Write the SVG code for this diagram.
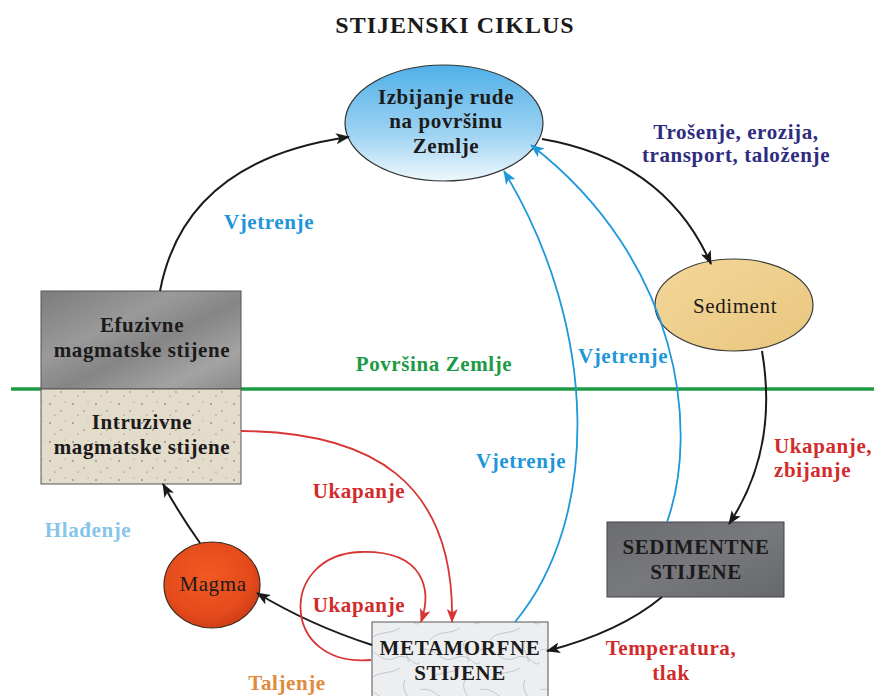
<svg xmlns="http://www.w3.org/2000/svg" width="874" height="696" viewBox="0 0 874 696">
<defs>
<style>
.t{font-family:"Liberation Serif","Times New Roman",serif;font-weight:bold;font-size:21px;letter-spacing:0.6px;text-anchor:middle}
.n{fill:#1c1a1a}
.b{fill:#1e96d8}
.r{fill:#d22b2b}
.blk{fill:none;stroke:#1a1a1a;stroke-width:2}
.red{fill:none;stroke:#d83535;stroke-width:1.8}
.blu{fill:none;stroke:#1e98dc;stroke-width:1.8}
</style>
<marker id="ak" markerWidth="14" markerHeight="11" refX="13" refY="5.5" orient="auto" markerUnits="userSpaceOnUse"><path d="M0,0 L14,5.5 L0,11 L3.5,5.5 z" fill="#1a1a1a"/></marker>
<marker id="ar" markerWidth="14" markerHeight="11" refX="13" refY="5.5" orient="auto" markerUnits="userSpaceOnUse"><path d="M0,0 L14,5.5 L0,11 L3.5,5.5 z" fill="#d83535"/></marker>
<marker id="ab" markerWidth="14" markerHeight="11" refX="13" refY="5.5" orient="auto" markerUnits="userSpaceOnUse"><path d="M0,0 L14,5.5 L0,11 L3.5,5.5 z" fill="#1e98dc"/></marker>
<linearGradient id="gBlue" x1="0" y1="0" x2="0" y2="1"><stop offset="0" stop-color="#4fb0e8"/><stop offset="0.6" stop-color="#9fd3f2"/><stop offset="1" stop-color="#eef8fd"/></linearGradient>
<linearGradient id="gEfu" x1="0" y1="0" x2="1" y2="1"><stop offset="0" stop-color="#7c7c7c"/><stop offset="0.35" stop-color="#9a9a9a"/><stop offset="0.55" stop-color="#858585"/><stop offset="0.8" stop-color="#a3a3a3"/><stop offset="1" stop-color="#8a8a8a"/></linearGradient>
<pattern id="pInt" width="23" height="19" patternUnits="userSpaceOnUse"><rect width="23" height="19" fill="#e3dccb"/><circle cx="4" cy="5" r="0.8" fill="#6b6458"/><circle cx="15" cy="12" r="0.7" fill="#7a7264"/><circle cx="19" cy="3" r="0.5" fill="#8b8374"/><circle cx="9" cy="16" r="0.6" fill="#6b6458"/></pattern>
<radialGradient id="gMag" cx="0.45" cy="0.4" r="0.65"><stop offset="0" stop-color="#f05a22"/><stop offset="0.7" stop-color="#e44a1c"/><stop offset="1" stop-color="#c93a14"/></radialGradient>
<linearGradient id="gSed" x1="0" y1="0" x2="1" y2="1"><stop offset="0" stop-color="#f3d79a"/><stop offset="1" stop-color="#e8c67e"/></linearGradient>
<linearGradient id="gSedS" x1="0" y1="0" x2="1" y2="1"><stop offset="0" stop-color="#6a6c70"/><stop offset="0.5" stop-color="#77797c"/><stop offset="1" stop-color="#66686b"/></linearGradient>
<pattern id="pMet" width="60" height="40" patternUnits="userSpaceOnUse"><rect width="60" height="40" fill="#eceef0"/><path d="M0,10 C15,5 20,25 35,18 S55,30 60,22 M10,40 C18,30 30,35 40,28 M45,0 C40,10 50,15 48,22" fill="none" stroke="#b9bdc2" stroke-width="0.8"/></pattern>
</defs>

<text x="455" y="33" class="t n" style="font-size:24px;letter-spacing:1px">STIJENSKI CIKLUS</text>

<line x1="11" y1="389" x2="874" y2="389" stroke="#1e9a45" stroke-width="3.5"/>

<g id="izbijanje">
<ellipse cx="444" cy="123" rx="99" ry="58" fill="url(#gBlue)" stroke="#333" stroke-width="1.2"/>
<text x="446" y="104" class="t n">Izbijanje rude</text>
<text x="446" y="128" class="t n">na površinu</text>
<text x="446" y="153" class="t n">Zemlje</text>
</g>

<g id="sediment">
<ellipse cx="734" cy="305" rx="79" ry="46" fill="url(#gSed)" stroke="#3a3a3a" stroke-width="1.2"/>
<text x="735" y="313" class="t n" style="font-weight:normal">Sediment</text>
</g>

<g id="efuzivne">
<rect x="41" y="291" width="200" height="98" fill="url(#gEfu)" stroke="#555" stroke-width="1"/>
<text x="142" y="332" class="t n">Efuzivne</text>
<text x="142" y="357" class="t n">magmatske stijene</text>
</g>

<g id="intruzivne">
<rect x="41" y="389" width="200" height="95" fill="url(#pInt)" stroke="#555" stroke-width="1"/>
<text x="142" y="429" class="t n">Intruzivne</text>
<text x="142" y="454" class="t n">magmatske stijene</text>
</g>

<g id="magma">
<ellipse cx="212" cy="585" rx="48" ry="43" fill="url(#gMag)" stroke="#3a2a20" stroke-width="1.2"/>
<text x="213" y="591" class="t n" style="font-weight:normal">Magma</text>
</g>

<g id="metamorfne">
<rect x="372" y="622" width="176" height="82" fill="url(#pMet)" stroke="#555" stroke-width="1"/>
<text x="460" y="655" class="t n">METAMORFNE</text>
<text x="460" y="680" class="t n">STIJENE</text>
</g>

<g id="sedimentne">
<rect x="607" y="522" width="177" height="75" fill="url(#gSedS)" stroke="#444" stroke-width="1"/>
<text x="696" y="554" class="t n">SEDIMENTNE</text>
<text x="696" y="579" class="t n">STIJENE</text>
</g>

<g id="connectors">
<path class="blk" d="M160,291 Q185,160 349,137" marker-end="url(#ak)"/>
<path class="blk" d="M542,139 Q665,160 711,264" marker-end="url(#ak)"/>
<path class="blk" d="M762,351 C772,410 765,470 729,524" marker-end="url(#ak)"/>
<path class="blk" d="M662,597 Q620,632 547,651" marker-end="url(#ak)"/>
<path class="blk" d="M372,645 Q310,625 257,593" marker-end="url(#ak)"/>
<path class="blk" d="M200,543 Q180,515 163,484" marker-end="url(#ak)"/>
<path class="red" d="M241,431 C370,432 455,480 452,622" marker-end="url(#ar)"/>
<path class="red" d="M371,660 C280,668 278,555 360,552 C425,550 432,590 421,622" marker-end="url(#ar)"/>
<path class="blu" d="M515,622 C600,520 600,330 504,171" marker-end="url(#ab)"/>
<path class="blu" d="M667,522 C700,430 680,260 531,145" marker-end="url(#ab)"/>
</g>

<g id="labels">
<text x="736" y="139" class="t" fill="#2e2c80">Trošenje, erozija,</text>
<text x="736" y="162" class="t" fill="#2e2c80">transport, taloženje</text>
<text x="269" y="229" class="t b">Vjetrenje</text>
<text x="623" y="363" class="t b">Vjetrenje</text>
<text x="521" y="468" class="t b">Vjetrenje</text>
<text x="434" y="371" class="t" fill="#1e9a45">Površina Zemlje</text>
<text x="88" y="537" class="t" fill="#86c5ea">Hlađenje</text>
<text x="359" y="498" class="t r">Ukapanje</text>
<text x="359" y="612" class="t r">Ukapanje</text>
<text x="287" y="690" class="t" fill="#e08a3a">Taljenje</text>
<text x="774" y="453" class="t r" style="text-anchor:start">Ukapanje,</text>
<text x="774" y="477" class="t r" style="text-anchor:start">zbijanje</text>
<text x="671" y="655" class="t r">Temperatura,</text>
<text x="671" y="680" class="t r">tlak</text>
</g>
</svg>
